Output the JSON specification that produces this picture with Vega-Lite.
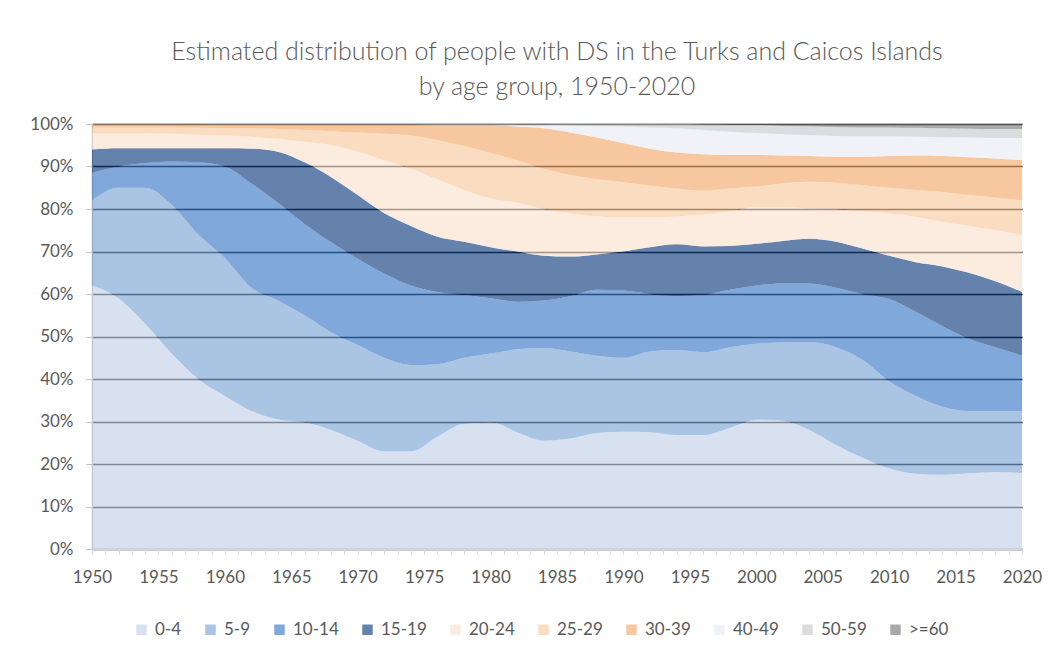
{
  "$schema": "https://vega.github.io/schema/vega-lite/v6.json",
  "autosize": {"type": "none"},
  "width": 930,
  "height": 425,
  "padding": {"left": 92, "top": 124, "right": 38, "bottom": 106},
  "background": "white",
  "config": {"view": {"stroke": null}, "font": "Lato"},
  "title": {
    "text": ["Estimated distribution of people with DS in the Turks and Caicos Islands", "by age group,  1950-2020"],
    "font": "Lato", "fontSize": 25, "fontWeight": 300, "color": "#595959",
    "anchor": "middle", "lineHeight": 35, "offset": 15
  },
  "data": {"values": [
{"year":1950,"age":"0-4","k":1,"pct":62},{"year":1950,"age":"5-9","k":2,"pct":20},{"year":1950,"age":"10-14","k":3,"pct":6.5},{"year":1950,"age":"15-19","k":4,"pct":5.5},{"year":1950,"age":"20-24","k":5,"pct":3.8},{"year":1950,"age":"25-29","k":6,"pct":1.4},{"year":1950,"age":"30-39","k":7,"pct":0.6},{"year":1950,"age":"40-49","k":8,"pct":0.15},{"year":1950,"age":"50-59","k":9,"pct":0.03},{"year":1950,"age":">=60","k":10,"pct":0.02},
{"year":1952,"age":"0-4","k":1,"pct":59},{"year":1952,"age":"5-9","k":2,"pct":26},{"year":1952,"age":"10-14","k":3,"pct":5},{"year":1952,"age":"15-19","k":4,"pct":4.3},{"year":1952,"age":"20-24","k":5,"pct":3.5},{"year":1952,"age":"25-29","k":6,"pct":1.4},{"year":1952,"age":"30-39","k":7,"pct":0.6},{"year":1952,"age":"40-49","k":8,"pct":0.15},{"year":1952,"age":"50-59","k":9,"pct":0.03},{"year":1952,"age":">=60","k":10,"pct":0.02},
{"year":1954,"age":"0-4","k":1,"pct":53},{"year":1954,"age":"5-9","k":2,"pct":32},{"year":1954,"age":"10-14","k":3,"pct":5.8},{"year":1954,"age":"15-19","k":4,"pct":3.5},{"year":1954,"age":"20-24","k":5,"pct":3.5},{"year":1954,"age":"25-29","k":6,"pct":1.4},{"year":1954,"age":"30-39","k":7,"pct":0.6},{"year":1954,"age":"40-49","k":8,"pct":0.15},{"year":1954,"age":"50-59","k":9,"pct":0.03},{"year":1954,"age":">=60","k":10,"pct":0.02},
{"year":1956,"age":"0-4","k":1,"pct":46},{"year":1956,"age":"5-9","k":2,"pct":35},{"year":1956,"age":"10-14","k":3,"pct":10.2},{"year":1956,"age":"15-19","k":4,"pct":3.1},{"year":1956,"age":"20-24","k":5,"pct":3.4},{"year":1956,"age":"25-29","k":6,"pct":1.5},{"year":1956,"age":"30-39","k":7,"pct":0.6},{"year":1956,"age":"40-49","k":8,"pct":0.15},{"year":1956,"age":"50-59","k":9,"pct":0.03},{"year":1956,"age":">=60","k":10,"pct":0.02},
{"year":1958,"age":"0-4","k":1,"pct":40},{"year":1958,"age":"5-9","k":2,"pct":34},{"year":1958,"age":"10-14","k":3,"pct":17},{"year":1958,"age":"15-19","k":4,"pct":3.3},{"year":1958,"age":"20-24","k":5,"pct":3.2},{"year":1958,"age":"25-29","k":6,"pct":1.6},{"year":1958,"age":"30-39","k":7,"pct":0.7},{"year":1958,"age":"40-49","k":8,"pct":0.15},{"year":1958,"age":"50-59","k":9,"pct":0.03},{"year":1958,"age":">=60","k":10,"pct":0.02},
{"year":1960,"age":"0-4","k":1,"pct":36},{"year":1960,"age":"5-9","k":2,"pct":32.5},{"year":1960,"age":"10-14","k":3,"pct":21.5},{"year":1960,"age":"15-19","k":4,"pct":4.3},{"year":1960,"age":"20-24","k":5,"pct":3},{"year":1960,"age":"25-29","k":6,"pct":1.7},{"year":1960,"age":"30-39","k":7,"pct":0.8},{"year":1960,"age":"40-49","k":8,"pct":0.15},{"year":1960,"age":"50-59","k":9,"pct":0.03},{"year":1960,"age":">=60","k":10,"pct":0.02},
{"year":1962,"age":"0-4","k":1,"pct":32.5},{"year":1962,"age":"5-9","k":2,"pct":29},{"year":1962,"age":"10-14","k":3,"pct":24.5},{"year":1962,"age":"15-19","k":4,"pct":8.2},{"year":1962,"age":"20-24","k":5,"pct":2.8},{"year":1962,"age":"25-29","k":6,"pct":2},{"year":1962,"age":"30-39","k":7,"pct":0.8},{"year":1962,"age":"40-49","k":8,"pct":0.15},{"year":1962,"age":"50-59","k":9,"pct":0.03},{"year":1962,"age":">=60","k":10,"pct":0.02},
{"year":1964,"age":"0-4","k":1,"pct":30.5},{"year":1964,"age":"5-9","k":2,"pct":28},{"year":1964,"age":"10-14","k":3,"pct":23},{"year":1964,"age":"15-19","k":4,"pct":12},{"year":1964,"age":"20-24","k":5,"pct":3},{"year":1964,"age":"25-29","k":6,"pct":2.3},{"year":1964,"age":"30-39","k":7,"pct":1},{"year":1964,"age":"40-49","k":8,"pct":0.15},{"year":1964,"age":"50-59","k":9,"pct":0.03},{"year":1964,"age":">=60","k":10,"pct":0.02},
{"year":1966,"age":"0-4","k":1,"pct":29.8},{"year":1966,"age":"5-9","k":2,"pct":25.2},{"year":1966,"age":"10-14","k":3,"pct":21.5},{"year":1966,"age":"15-19","k":4,"pct":14.5},{"year":1966,"age":"20-24","k":5,"pct":4.8},{"year":1966,"age":"25-29","k":6,"pct":2.8},{"year":1966,"age":"30-39","k":7,"pct":1.2},{"year":1966,"age":"40-49","k":8,"pct":0.15},{"year":1966,"age":"50-59","k":9,"pct":0.03},{"year":1966,"age":">=60","k":10,"pct":0.02},
{"year":1968,"age":"0-4","k":1,"pct":28},{"year":1968,"age":"5-9","k":2,"pct":23},{"year":1968,"age":"10-14","k":3,"pct":21.2},{"year":1968,"age":"15-19","k":4,"pct":15.3},{"year":1968,"age":"20-24","k":5,"pct":7.5},{"year":1968,"age":"25-29","k":6,"pct":3.3},{"year":1968,"age":"30-39","k":7,"pct":1.5},{"year":1968,"age":"40-49","k":8,"pct":0.15},{"year":1968,"age":"50-59","k":9,"pct":0.03},{"year":1968,"age":">=60","k":10,"pct":0.02},
{"year":1970,"age":"0-4","k":1,"pct":25.5},{"year":1970,"age":"5-9","k":2,"pct":22.5},{"year":1970,"age":"10-14","k":3,"pct":20.3},{"year":1970,"age":"15-19","k":4,"pct":15},{"year":1970,"age":"20-24","k":5,"pct":10.2},{"year":1970,"age":"25-29","k":6,"pct":4.5},{"year":1970,"age":"30-39","k":7,"pct":1.8},{"year":1970,"age":"40-49","k":8,"pct":0.15},{"year":1970,"age":"50-59","k":9,"pct":0.03},{"year":1970,"age":">=60","k":10,"pct":0.02},
{"year":1972,"age":"0-4","k":1,"pct":23},{"year":1972,"age":"5-9","k":2,"pct":22},{"year":1972,"age":"10-14","k":3,"pct":19.8},{"year":1972,"age":"15-19","k":4,"pct":14.2},{"year":1972,"age":"20-24","k":5,"pct":12.5},{"year":1972,"age":"25-29","k":6,"pct":6.2},{"year":1972,"age":"30-39","k":7,"pct":2.1},{"year":1972,"age":"40-49","k":8,"pct":0.15},{"year":1972,"age":"50-59","k":9,"pct":0.03},{"year":1972,"age":">=60","k":10,"pct":0.02},
{"year":1974,"age":"0-4","k":1,"pct":23},{"year":1974,"age":"5-9","k":2,"pct":20.3},{"year":1974,"age":"10-14","k":3,"pct":18.7},{"year":1974,"age":"15-19","k":4,"pct":14},{"year":1974,"age":"20-24","k":5,"pct":13.5},{"year":1974,"age":"25-29","k":6,"pct":7.8},{"year":1974,"age":"30-39","k":7,"pct":2.5},{"year":1974,"age":"40-49","k":8,"pct":0.15},{"year":1974,"age":"50-59","k":9,"pct":0.03},{"year":1974,"age":">=60","k":10,"pct":0.02},
{"year":1976,"age":"0-4","k":1,"pct":26.5},{"year":1976,"age":"5-9","k":2,"pct":17},{"year":1976,"age":"10-14","k":3,"pct":17},{"year":1976,"age":"15-19","k":4,"pct":13},{"year":1976,"age":"20-24","k":5,"pct":13.5},{"year":1976,"age":"25-29","k":6,"pct":9.2},{"year":1976,"age":"30-39","k":7,"pct":3.5},{"year":1976,"age":"40-49","k":8,"pct":0.25},{"year":1976,"age":"50-59","k":9,"pct":0.03},{"year":1976,"age":">=60","k":10,"pct":0.02},
{"year":1978,"age":"0-4","k":1,"pct":29.5},{"year":1978,"age":"5-9","k":2,"pct":15.5},{"year":1978,"age":"10-14","k":3,"pct":14.8},{"year":1978,"age":"15-19","k":4,"pct":12.5},{"year":1978,"age":"20-24","k":5,"pct":12.2},{"year":1978,"age":"25-29","k":6,"pct":10.3},{"year":1978,"age":"30-39","k":7,"pct":4.9},{"year":1978,"age":"40-49","k":8,"pct":0.25},{"year":1978,"age":"50-59","k":9,"pct":0.03},{"year":1978,"age":">=60","k":10,"pct":0.02},
{"year":1980,"age":"0-4","k":1,"pct":29.8},{"year":1980,"age":"5-9","k":2,"pct":16.2},{"year":1980,"age":"10-14","k":3,"pct":13},{"year":1980,"age":"15-19","k":4,"pct":12},{"year":1980,"age":"20-24","k":5,"pct":11.5},{"year":1980,"age":"25-29","k":6,"pct":10.7},{"year":1980,"age":"30-39","k":7,"pct":6.5},{"year":1980,"age":"40-49","k":8,"pct":0.25},{"year":1980,"age":"50-59","k":9,"pct":0.03},{"year":1980,"age":">=60","k":10,"pct":0.02},
{"year":1982,"age":"0-4","k":1,"pct":27.5},{"year":1982,"age":"5-9","k":2,"pct":19.5},{"year":1982,"age":"10-14","k":3,"pct":11.2},{"year":1982,"age":"15-19","k":4,"pct":11.8},{"year":1982,"age":"20-24","k":5,"pct":11.5},{"year":1982,"age":"25-29","k":6,"pct":10},{"year":1982,"age":"30-39","k":7,"pct":7.9},{"year":1982,"age":"40-49","k":8,"pct":0.5},{"year":1982,"age":"50-59","k":9,"pct":0.08},{"year":1982,"age":">=60","k":10,"pct":0.02},
{"year":1984,"age":"0-4","k":1,"pct":25.5},{"year":1984,"age":"5-9","k":2,"pct":21.8},{"year":1984,"age":"10-14","k":3,"pct":11.2},{"year":1984,"age":"15-19","k":4,"pct":10.5},{"year":1984,"age":"20-24","k":5,"pct":11},{"year":1984,"age":"25-29","k":6,"pct":9.5},{"year":1984,"age":"30-39","k":7,"pct":9.5},{"year":1984,"age":"40-49","k":8,"pct":0.8},{"year":1984,"age":"50-59","k":9,"pct":0.18},{"year":1984,"age":">=60","k":10,"pct":0.02},
{"year":1986,"age":"0-4","k":1,"pct":26},{"year":1986,"age":"5-9","k":2,"pct":20.5},{"year":1986,"age":"10-14","k":3,"pct":13},{"year":1986,"age":"15-19","k":4,"pct":9.3},{"year":1986,"age":"20-24","k":5,"pct":10.2},{"year":1986,"age":"25-29","k":6,"pct":9},{"year":1986,"age":"30-39","k":7,"pct":10},{"year":1986,"age":"40-49","k":8,"pct":1.7},{"year":1986,"age":"50-59","k":9,"pct":0.28},{"year":1986,"age":">=60","k":10,"pct":0.02},
{"year":1988,"age":"0-4","k":1,"pct":27.3},{"year":1988,"age":"5-9","k":2,"pct":18.2},{"year":1988,"age":"10-14","k":3,"pct":15.5},{"year":1988,"age":"15-19","k":4,"pct":8.3},{"year":1988,"age":"20-24","k":5,"pct":9},{"year":1988,"age":"25-29","k":6,"pct":8.7},{"year":1988,"age":"30-39","k":7,"pct":9.8},{"year":1988,"age":"40-49","k":8,"pct":2.8},{"year":1988,"age":"50-59","k":9,"pct":0.38},{"year":1988,"age":">=60","k":10,"pct":0.02},
{"year":1990,"age":"0-4","k":1,"pct":27.6},{"year":1990,"age":"5-9","k":2,"pct":17.4},{"year":1990,"age":"10-14","k":3,"pct":15.8},{"year":1990,"age":"15-19","k":4,"pct":9.2},{"year":1990,"age":"20-24","k":5,"pct":8},{"year":1990,"age":"25-29","k":6,"pct":8.3},{"year":1990,"age":"30-39","k":7,"pct":9.2},{"year":1990,"age":"40-49","k":8,"pct":3.9},{"year":1990,"age":"50-59","k":9,"pct":0.58},{"year":1990,"age":">=60","k":10,"pct":0.02},
{"year":1992,"age":"0-4","k":1,"pct":27.5},{"year":1992,"age":"5-9","k":2,"pct":19},{"year":1992,"age":"10-14","k":3,"pct":13.5},{"year":1992,"age":"15-19","k":4,"pct":11},{"year":1992,"age":"20-24","k":5,"pct":7},{"year":1992,"age":"25-29","k":6,"pct":7.5},{"year":1992,"age":"30-39","k":7,"pct":8.7},{"year":1992,"age":"40-49","k":8,"pct":5},{"year":1992,"age":"50-59","k":9,"pct":0.78},{"year":1992,"age":">=60","k":10,"pct":0.02},
{"year":1994,"age":"0-4","k":1,"pct":26.8},{"year":1994,"age":"5-9","k":2,"pct":20},{"year":1994,"age":"10-14","k":3,"pct":12.7},{"year":1994,"age":"15-19","k":4,"pct":12.2},{"year":1994,"age":"20-24","k":5,"pct":6.6},{"year":1994,"age":"25-29","k":6,"pct":6.5},{"year":1994,"age":"30-39","k":7,"pct":8.5},{"year":1994,"age":"40-49","k":8,"pct":5.7},{"year":1994,"age":"50-59","k":9,"pct":0.98},{"year":1994,"age":">=60","k":10,"pct":0.02},
{"year":1996,"age":"0-4","k":1,"pct":26.8},{"year":1996,"age":"5-9","k":2,"pct":19.5},{"year":1996,"age":"10-14","k":3,"pct":13.5},{"year":1996,"age":"15-19","k":4,"pct":11.4},{"year":1996,"age":"20-24","k":5,"pct":7.5},{"year":1996,"age":"25-29","k":6,"pct":5.6},{"year":1996,"age":"30-39","k":7,"pct":8.6},{"year":1996,"age":"40-49","k":8,"pct":5.7},{"year":1996,"age":"50-59","k":9,"pct":1.35},{"year":1996,"age":">=60","k":10,"pct":0.05},
{"year":1998,"age":"0-4","k":1,"pct":28.5},{"year":1998,"age":"5-9","k":2,"pct":19},{"year":1998,"age":"10-14","k":3,"pct":13.5},{"year":1998,"age":"15-19","k":4,"pct":10.3},{"year":1998,"age":"20-24","k":5,"pct":8.2},{"year":1998,"age":"25-29","k":6,"pct":5.3},{"year":1998,"age":"30-39","k":7,"pct":7.9},{"year":1998,"age":"40-49","k":8,"pct":5.5},{"year":1998,"age":"50-59","k":9,"pct":1.7},{"year":1998,"age":">=60","k":10,"pct":0.1},
{"year":2000,"age":"0-4","k":1,"pct":30.4},{"year":2000,"age":"5-9","k":2,"pct":17.9},{"year":2000,"age":"10-14","k":3,"pct":13.7},{"year":2000,"age":"15-19","k":4,"pct":9.8},{"year":2000,"age":"20-24","k":5,"pct":8.7},{"year":2000,"age":"25-29","k":6,"pct":4.8},{"year":2000,"age":"30-39","k":7,"pct":7.4},{"year":2000,"age":"40-49","k":8,"pct":5.2},{"year":2000,"age":"50-59","k":9,"pct":1.9},{"year":2000,"age":">=60","k":10,"pct":0.2},
{"year":2002,"age":"0-4","k":1,"pct":30.2},{"year":2002,"age":"5-9","k":2,"pct":18.4},{"year":2002,"age":"10-14","k":3,"pct":13.9},{"year":2002,"age":"15-19","k":4,"pct":10},{"year":2002,"age":"20-24","k":5,"pct":8},{"year":2002,"age":"25-29","k":6,"pct":5.5},{"year":2002,"age":"30-39","k":7,"pct":6.6},{"year":2002,"age":"40-49","k":8,"pct":5},{"year":2002,"age":"50-59","k":9,"pct":2},{"year":2002,"age":">=60","k":10,"pct":0.4},
{"year":2004,"age":"0-4","k":1,"pct":28},{"year":2004,"age":"5-9","k":2,"pct":20.7},{"year":2004,"age":"10-14","k":3,"pct":13.8},{"year":2004,"age":"15-19","k":4,"pct":10.5},{"year":2004,"age":"20-24","k":5,"pct":7.2},{"year":2004,"age":"25-29","k":6,"pct":6.2},{"year":2004,"age":"30-39","k":7,"pct":6.1},{"year":2004,"age":"40-49","k":8,"pct":4.9},{"year":2004,"age":"50-59","k":9,"pct":2.1},{"year":2004,"age":">=60","k":10,"pct":0.5},
{"year":2006,"age":"0-4","k":1,"pct":24.5},{"year":2006,"age":"5-9","k":2,"pct":23},{"year":2006,"age":"10-14","k":3,"pct":14},{"year":2006,"age":"15-19","k":4,"pct":10.8},{"year":2006,"age":"20-24","k":5,"pct":7.7},{"year":2006,"age":"25-29","k":6,"pct":6.2},{"year":2006,"age":"30-39","k":7,"pct":6.1},{"year":2006,"age":"40-49","k":8,"pct":4.9},{"year":2006,"age":"50-59","k":9,"pct":2.1},{"year":2006,"age":">=60","k":10,"pct":0.7},
{"year":2008,"age":"0-4","k":1,"pct":21.5},{"year":2008,"age":"5-9","k":2,"pct":23},{"year":2008,"age":"10-14","k":3,"pct":15.5},{"year":2008,"age":"15-19","k":4,"pct":10.7},{"year":2008,"age":"20-24","k":5,"pct":8.8},{"year":2008,"age":"25-29","k":6,"pct":6.1},{"year":2008,"age":"30-39","k":7,"pct":6.7},{"year":2008,"age":"40-49","k":8,"pct":4.8},{"year":2008,"age":"50-59","k":9,"pct":2.1},{"year":2008,"age":">=60","k":10,"pct":0.8},
{"year":2010,"age":"0-4","k":1,"pct":19},{"year":2010,"age":"5-9","k":2,"pct":20.5},{"year":2010,"age":"10-14","k":3,"pct":19.3},{"year":2010,"age":"15-19","k":4,"pct":10.2},{"year":2010,"age":"20-24","k":5,"pct":10},{"year":2010,"age":"25-29","k":6,"pct":6},{"year":2010,"age":"30-39","k":7,"pct":7.5},{"year":2010,"age":"40-49","k":8,"pct":4.6},{"year":2010,"age":"50-59","k":9,"pct":2.1},{"year":2010,"age":">=60","k":10,"pct":0.8},
{"year":2012,"age":"0-4","k":1,"pct":17.7},{"year":2012,"age":"5-9","k":2,"pct":18.3},{"year":2012,"age":"10-14","k":3,"pct":19.8},{"year":2012,"age":"15-19","k":4,"pct":11.7},{"year":2012,"age":"20-24","k":5,"pct":10.7},{"year":2012,"age":"25-29","k":6,"pct":6.3},{"year":2012,"age":"30-39","k":7,"pct":8.1},{"year":2012,"age":"40-49","k":8,"pct":4.4},{"year":2012,"age":"50-59","k":9,"pct":2.1},{"year":2012,"age":">=60","k":10,"pct":0.9},
{"year":2014,"age":"0-4","k":1,"pct":17.5},{"year":2014,"age":"5-9","k":2,"pct":16},{"year":2014,"age":"10-14","k":3,"pct":19},{"year":2014,"age":"15-19","k":4,"pct":14},{"year":2014,"age":"20-24","k":5,"pct":10.5},{"year":2014,"age":"25-29","k":6,"pct":7},{"year":2014,"age":"30-39","k":7,"pct":8.5},{"year":2014,"age":"40-49","k":8,"pct":4.4},{"year":2014,"age":"50-59","k":9,"pct":2.1},{"year":2014,"age":">=60","k":10,"pct":1},
{"year":2016,"age":"0-4","k":1,"pct":17.8},{"year":2016,"age":"5-9","k":2,"pct":14.7},{"year":2016,"age":"10-14","k":3,"pct":17},{"year":2016,"age":"15-19","k":4,"pct":15.5},{"year":2016,"age":"20-24","k":5,"pct":11},{"year":2016,"age":"25-29","k":6,"pct":7.3},{"year":2016,"age":"30-39","k":7,"pct":8.9},{"year":2016,"age":"40-49","k":8,"pct":4.6},{"year":2016,"age":"50-59","k":9,"pct":2.1},{"year":2016,"age":">=60","k":10,"pct":1.1},
{"year":2018,"age":"0-4","k":1,"pct":18.1},{"year":2018,"age":"5-9","k":2,"pct":14.4},{"year":2018,"age":"10-14","k":3,"pct":15},{"year":2018,"age":"15-19","k":4,"pct":15.5},{"year":2018,"age":"20-24","k":5,"pct":12},{"year":2018,"age":"25-29","k":6,"pct":7.7},{"year":2018,"age":"30-39","k":7,"pct":9.2},{"year":2018,"age":"40-49","k":8,"pct":4.8},{"year":2018,"age":"50-59","k":9,"pct":2.1},{"year":2018,"age":">=60","k":10,"pct":1.2},
{"year":2020,"age":"0-4","k":1,"pct":17.9},{"year":2020,"age":"5-9","k":2,"pct":14.6},{"year":2020,"age":"10-14","k":3,"pct":13},{"year":2020,"age":"15-19","k":4,"pct":15},{"year":2020,"age":"20-24","k":5,"pct":13.4},{"year":2020,"age":"25-29","k":6,"pct":8.1},{"year":2020,"age":"30-39","k":7,"pct":9.5},{"year":2020,"age":"40-49","k":8,"pct":5.2},{"year":2020,"age":"50-59","k":9,"pct":2.1},{"year":2020,"age":">=60","k":10,"pct":1.2}
  ]},
  "mark": {"type": "area", "interpolate": "monotone", "opacity": 0.65},
  "encoding": {
    "x": {
      "field": "year", "type": "quantitative",
      "scale": {"domain": [1950, 2020], "nice": false, "zero": false},
      "axis": {
        "title": null, "grid": false, "zindex": 1,
        "values": [1950,1951,1952,1953,1954,1955,1956,1957,1958,1959,1960,1961,1962,1963,1964,1965,1966,1967,1968,1969,1970,1971,1972,1973,1974,1975,1976,1977,1978,1979,1980,1981,1982,1983,1984,1985,1986,1987,1988,1989,1990,1991,1992,1993,1994,1995,1996,1997,1998,1999,2000,2001,2002,2003,2004,2005,2006,2007,2008,2009,2010,2011,2012,2013,2014,2015,2016,2017,2018,2019,2020],
        "labelExpr": "datum.value % 5 == 0 ? format(datum.value, 'd') : ''",
        "labelOverlap": false, "labelFlush": false,
        "labelFont": "Lato", "labelFontSize": 17, "labelColor": "#595959", "labelPadding": 15,
        "domainColor": "#d9d9d9", "domainWidth": 1.5, "tickColor": "#d9d9d9", "tickSize": 5, "tickWidth": 1
      }
    },
    "y": {
      "field": "pct", "type": "quantitative", "stack": "normalize",
      "scale": {"domain": [0, 1]},
      "axis": {
        "title": null, "format": ".0%", "values": [0,0.1,0.2,0.3,0.4,0.5,0.6,0.7,0.8,0.9,1],
        "grid": true, "gridColor": "#000000", "gridWidth": 1.7, "gridOpacity": 1, "zindex": 0,
        "labelFont": "Lato", "labelFontSize": 17, "labelColor": "#595959", "labelPadding": 13,
        "domainColor": "#bfbfbf", "domainWidth": 1.5, "tickColor": "#bfbfbf", "tickSize": 6
      }
    },
    "order": {"field": "k", "type": "quantitative"},
    "color": {
      "field": "age", "type": "nominal",
      "scale": {
        "domain": ["0-4","5-9","10-14","15-19","20-24","25-29","30-39","40-49","50-59",">=60"],
        "range": ["#c2d1e8","#7da5d6","#3c7ac6","#113f80","#fbe2d0","#f8caa0","#f2ab6d","#e8ebf2","#cacacd","#7d7d7d"]
      },
      "legend": {
        "title": null, "orient": "none", "legendX": 41, "legendY": 497, "direction": "horizontal",
        "symbolType": "square", "symbolSize": 110, "symbolStrokeWidth": 0, "symbolOpacity": 0.65,
        "labelFont": "Lato", "labelFontSize": 17, "labelColor": "#595959", "labelOffset": 5, "columnPadding": 20
      }
    }
  }
}
